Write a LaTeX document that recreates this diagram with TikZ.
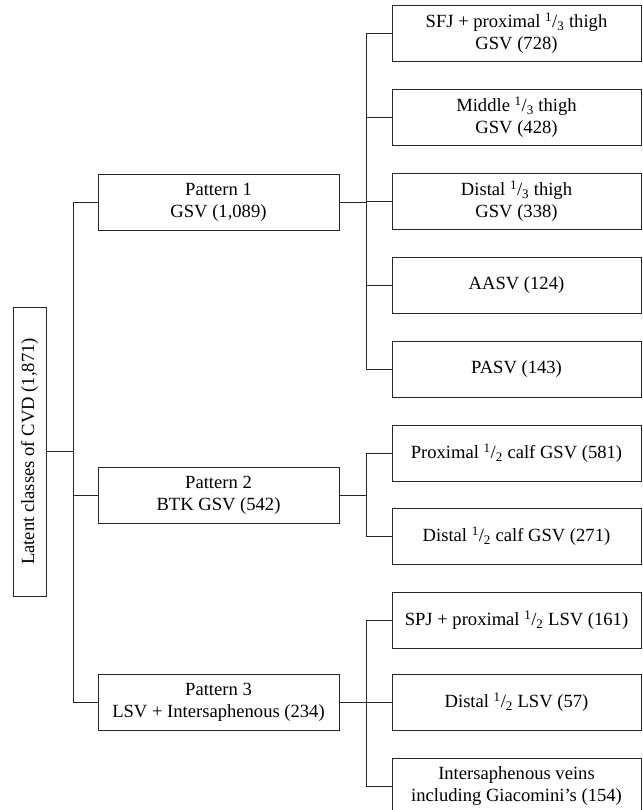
\documentclass[tikz,border=0pt]{standalone}
\usepackage{fontspec}
\setmainfont{Liberation Serif}
\newcommand{\fr}[2]{\textsuperscript{#1}/\textsubscript{#2}}
\begin{document}
\begin{tikzpicture}[x=1pt,y=-1pt,
  every node/.style={font=\fontsize{18.6}{22}\selectfont, align=center, inner sep=0pt},
  box/.style={draw=black!85, line width=0.9pt},
  pbox/.style={box, minimum width=241, minimum height=56},
  cbox/.style={box, minimum width=249, minimum height=56},
  link/.style={draw=black!85, line width=0.9pt}]
\useasboundingbox (0,0) rectangle (642,810);
\clip (0,0) rectangle (642,810);
\node[box, rotate=90, minimum width=289, minimum height=33] (root) at (29.5,451.5) {Latent classes of CVD (1,871)};
\node[pbox] (p1) at (218.5,202) {Pattern 1\\GSV (1,089)};
\node[pbox] (p2) at (218.5,495) {Pattern 2\\BTK GSV (542)};
\node[pbox] (p3) at (218.5,702) {Pattern 3\\LSV + Intersaphenous (234)};
\node[cbox] (c11) at (516.5,33.5) {SFJ + proximal \fr{1}{3} thigh\\GSV (728)};
\node[cbox] (c12) at (516.5,117) {Middle \fr{1}{3} thigh\\GSV (428)};
\node[cbox] (c13) at (516.5,201.5) {Distal \fr{1}{3} thigh\\GSV (338)};
\node[cbox] (c14) at (516.5,285) {AASV (124)};
\node[cbox] (c15) at (516.5,369) {PASV (143)};
\node[cbox] (c21) at (516.5,453) {Proximal \fr{1}{2} calf GSV (581)};
\node[cbox] (c22) at (516.5,536) {Distal \fr{1}{2} calf GSV (271)};
\node[cbox] (c31) at (516.5,620) {SPJ + proximal \fr{1}{2} LSV (161)};
\node[cbox] (c32) at (516.5,702) {Distal \fr{1}{2} LSV (57)};
\node[cbox] (c33) at (516.5,786) {Intersaphenous veins\\including Giacomini's (154)};
\coordinate (sp) at (73,0);
\coordinate (sa) at (366,0);
\draw[link] (root.south) -- (root.south -| sp);
\draw[link] (p1.west) -- (p1.west -| sp) -- (p3.west -| sp) -- (p3.west);
\draw[link] (p2.west) -- (p2.west -| sp);
\draw[link] (p1.east) -- (p1.east -| sa);
\draw[link] (c11.west) -- (c11.west -| sa) -- (c15.west -| sa) -- (c15.west);
\draw[link] (c12.west) -- (c12.west -| sa);
\draw[link] (c13.west) -- (c13.west -| sa);
\draw[link] (c14.west) -- (c14.west -| sa);
\draw[link] (p2.east) -- (p2.east -| sa);
\draw[link] (c21.west) -- (c21.west -| sa) -- (c22.west -| sa) -- (c22.west);
\draw[link] (p3.east) -- (p3.east -| sa);
\draw[link] (c31.west) -- (c31.west -| sa) -- (c33.west -| sa) -- (c33.west);
\draw[link] (c32.west) -- (c32.west -| sa);
\end{tikzpicture}
\end{document}
